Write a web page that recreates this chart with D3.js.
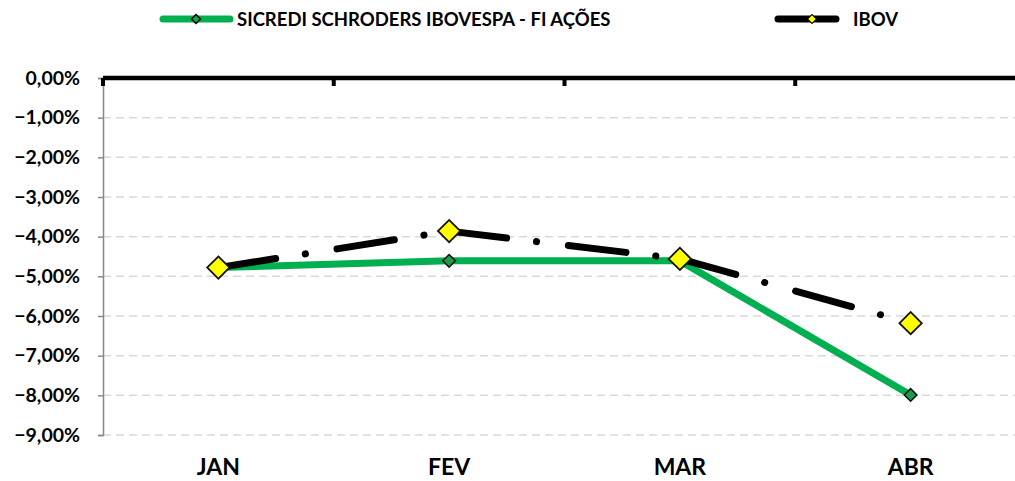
<!DOCTYPE html>
<html>
<head>
<meta charset="utf-8">
<script src="https://cdn.jsdelivr.net/npm/d3@7"></script>
<style>
  body { margin: 0; background: #fff; }
  svg { display: block; font-family: Lato, "Open Sans", sans-serif; font-weight: bold; }
</style>
</head>
<body>
<div id="chart"></div>
<script>
const months = ["JAN", "FEV", "MAR", "ABR"];
const fundValues = [-4.78, -4.61, -4.61, -7.99];
const ibovValues = [-4.78, -3.86, -4.56, -6.18];
const yTicks = [0, -1, -2, -3, -4, -5, -6, -7, -8, -9];
const fundName = "SICREDI SCHRODERS IBOVESPA - FI AÇÕES";
const ibovName = "IBOV";

const width = 1015, height = 481;
const margin = { top: 78, right: -11, bottom: 46, left: 103 };

const svg = d3.select("#chart").append("svg")
    .attr("width", width)
    .attr("height", height);

const x = d3.scaleBand()
    .domain(months)
    .range([margin.left, width - margin.right]);

const y = d3.scaleLinear()
    .domain([0, -9])
    .range([margin.top, height - margin.bottom]);

const fmt = v => d3.format(".2f")(v).replace(".", ",") + "%";

// gridlines
svg.append("g")
    .selectAll("line")
    .data(yTicks.filter(d => d !== 0))
    .join("line")
    .attr("x1", margin.left)
    .attr("x2", width)
    .attr("y1", d => y(d))
    .attr("y2", d => y(d))
    .attr("stroke", "#d9d9d9")
    .attr("stroke-width", 1.5)
    .attr("stroke-dasharray", "8 5");

// y axis
const yAxis = svg.append("g")
    .attr("transform", `translate(${margin.left},0)`)
    .call(d3.axisLeft(y).tickValues(yTicks).tickFormat(fmt).tickSize(5).tickPadding(18));
yAxis.select(".domain").attr("stroke", "#888").attr("stroke-width", 1.5);
yAxis.selectAll(".tick line").attr("stroke", "#888").attr("stroke-width", 1.5);
yAxis.selectAll("text")
    .attr("font-size", 19.5)
    .attr("font-weight", "bold")
    .attr("fill", "#000")
    .attr("font-family", "Lato, sans-serif");

// x labels
svg.append("g")
    .selectAll("text")
    .data(months)
    .join("text")
    .attr("x", d => x(d) + x.bandwidth() / 2)
    .attr("y", 475)
    .attr("text-anchor", "middle")
    .attr("font-size", 23)
    .attr("fill", "#000")
    .text(d => d);

// top axis line at 0%
const zeroAxis = svg.append("g")
    .attr("transform", `translate(0,${y(0)})`);
zeroAxis.append("line")
    .attr("x1", margin.left)
    .attr("x2", width)
    .attr("stroke", "#000")
    .attr("stroke-width", 4.5);
zeroAxis.selectAll(".boundary")
    .data(months)
    .join("rect")
    .attr("class", "boundary")
    .attr("x", d => x(d) - 2)
    .attr("y", 0)
    .attr("width", 4)
    .attr("height", 8)
    .attr("fill", "#000");

const cx = d => x(d) + x.bandwidth() / 2;

const line = d3.line()
    .x(d => cx(d[0]))
    .y(d => y(d[1]));

const fundPts = months.map((m, i) => [m, fundValues[i]]);
const ibovPts = months.map((m, i) => [m, ibovValues[i]]);

// fund series
svg.append("path")
    .datum(fundPts)
    .attr("d", line)
    .attr("fill", "none")
    .attr("stroke", "#00b050")
    .attr("stroke-width", 7)
    .attr("stroke-linejoin", "round");

svg.append("g")
    .selectAll("path")
    .data(fundPts)
    .join("path")
    .attr("transform", d => `translate(${cx(d[0])},${y(d[1])}) rotate(45)`)
    .attr("d", d3.symbol().type(d3.symbolSquare).size(80))
    .attr("fill", "#1f9a4a")
    .attr("stroke", "#111")
    .attr("stroke-width", 1.5);

// ibov series, dash pattern restarts on each segment (Excel style)
svg.append("g")
    .selectAll("path")
    .data(d3.pairs(ibovPts))
    .join("path")
    .attr("d", d => line(d))
    .attr("fill", "none")
    .attr("stroke", "#000")
    .attr("stroke-width", 7)
    .attr("stroke-linecap", "round")
    .attr("stroke-dasharray", "58 30 0.1 32");

svg.append("g")
    .selectAll("path")
    .data(ibovPts)
    .join("path")
    .attr("transform", d => `translate(${cx(d[0])},${y(d[1])}) rotate(45)`)
    .attr("d", d3.symbol().type(d3.symbolSquare).size(250))
    .attr("fill", "#ffff00")
    .attr("stroke", "#111")
    .attr("stroke-width", 1.8);

// legend
const legend = svg.append("g").attr("font-size", 18.5);
const leg1 = legend.append("g").attr("transform", "translate(160,19)");
leg1.append("line").attr("x1", 3).attr("x2", 70)
    .attr("stroke", "#00b050").attr("stroke-width", 7).attr("stroke-linecap", "round");
leg1.append("path").attr("transform", "translate(36,0) rotate(45)")
    .attr("d", d3.symbol().type(d3.symbolSquare).size(40))
    .attr("fill", "#00b050").attr("stroke", "#000").attr("stroke-width", 1.5);
leg1.append("text").attr("x", 77).attr("y", 6.5).text(fundName);

const leg2 = legend.append("g").attr("transform", "translate(775,19)");
leg2.append("line").attr("x1", 3).attr("x2", 61)
    .attr("stroke", "#000").attr("stroke-width", 7).attr("stroke-linecap", "round");
leg2.append("path").attr("transform", "translate(37,0) rotate(45)")
    .attr("d", d3.symbol().type(d3.symbolSquare).size(40))
    .attr("fill", "#ffff00").attr("stroke", "#000").attr("stroke-width", 1);
leg2.append("text").attr("x", 78).attr("y", 6.5).text(ibovName);
</script>
</body>
</html>
